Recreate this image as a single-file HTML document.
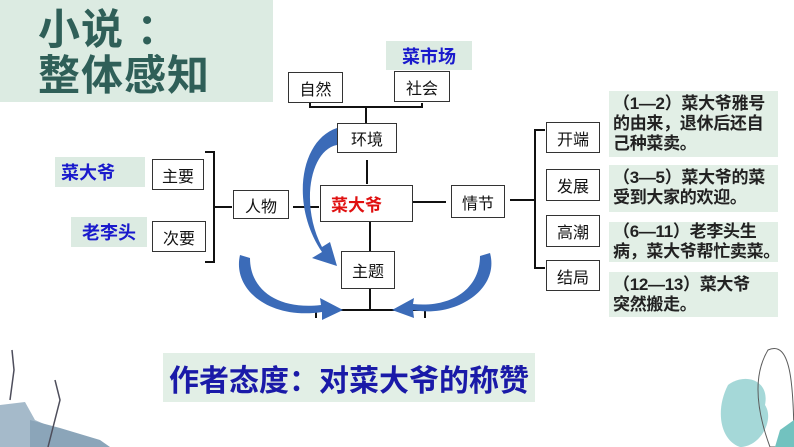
<!DOCTYPE html>
<html><head><meta charset="utf-8"><style>
body{margin:0;width:794px;height:447px;background:#fff;position:relative;overflow:hidden;font-family:"Liberation Sans","Noto Sans CJK SC",sans-serif}
.a{position:absolute}
.box{position:absolute;border:1.5px solid #333;background:#fff;box-sizing:border-box;font-size:16px;color:#111;display:flex;align-items:center;justify-content:center}
.lab{position:absolute;background:#dcebe2;color:#1a1acc;font-weight:bold;font-size:18px;display:flex;align-items:center;justify-content:center}
.g{position:absolute;background:#e2efe6;color:#222;font-weight:bold;font-size:17px;line-height:20px;padding:3px 4px;box-sizing:border-box;white-space:nowrap;letter-spacing:-0.3px}
</style></head><body>
<div class="a" style="left:0;top:0;width:273px;height:102px;background:#dcebe2"></div>
<div class="a" style="left:38px;top:7px;font-size:42px;font-weight:bold;color:#2f5f58;line-height:46px;letter-spacing:1px">小说 ：<br>整体感知</div>

<svg class="a" style="left:0;top:0" width="794" height="447">
<g stroke="#111" stroke-width="2" fill="none">
<path d="M310 103V107H422V103M366 107V123"/>
<path d="M367 160V184M370 222V251M370 289V310M316 318V310H425V318"/>
<path d="M412 202H446M293 207H319"/>
<path d="M205 152H214V262H205M214 207H232"/>
<path d="M545 130H535V268H545M535 200H510"/>
</g>
<g fill="#3b6bb8">
<path d="M337 128C300 140 290 205 322 252L312 258L337 266L330 242L322 247C300 205 310 150 337 145Z"/>
<path d="M240 255C232 290 270 320 322 312L322 320L343 310L320 298L321 305C278 310 250 290 250 258Z"/>
<path d="M490 253C500 290 455 318 413 310L414 318L392 310L414 298L413 304C450 308 480 290 480 256Z"/>
</g>
<g opacity="0.8">
<path d="M0 405L25 402L35 420L58 430L55 447H0Z" fill="#8fa9bd"/>
<path d="M30 420L60 428L100 440L110 447H30Z" fill="#6f8fa8"/>
<path d="M48 447L60 400L55 380M10 400L14 370L12 350" stroke="#223" stroke-width="1.5" fill="none"/>
<path d="M728 385C745 372 770 380 765 405C775 420 760 447 740 447C720 440 715 410 728 385Z" fill="#8fcfcf"/>
<path d="M768 350C790 340 794 380 794 447H770C760 420 750 380 768 350Z" fill="none" stroke="#333"/>
<path d="M780 430L794 420V447H775Z" fill="#4fb3b0"/>
</g>
</svg>

<div class="lab" style="left:386px;top:41px;width:86px;height:29px">菜市场</div>
<div class="box" style="left:288px;top:72px;width:55px;height:31px">自然</div>
<div class="box" style="left:394px;top:71px;width:56px;height:31px">社会</div>
<div class="box" style="left:337px;top:123px;width:60px;height:30px">环境</div>
<div class="box" style="left:320px;top:185px;width:93px;height:37px;color:#e01010;font-weight:bold;font-size:17px;justify-content:flex-start;padding-left:10px">菜大爷</div>
<div class="box" style="left:451px;top:185px;width:54px;height:33px">情节</div>
<div class="box" style="left:233px;top:190px;width:56px;height:29px">人物</div>
<div class="box" style="left:341px;top:251px;width:54px;height:38px">主题</div>
<div class="box" style="left:152px;top:159px;width:52px;height:31px">主要</div>
<div class="box" style="left:152px;top:221px;width:54px;height:31px">次要</div>
<div class="lab" style="left:55px;top:157px;width:84px;height:30px;justify-content:flex-start;padding-left:6px">菜大爷</div>
<div class="lab" style="left:71px;top:217px;width:76px;height:30px">老李头</div>

<div class="box" style="left:546px;top:122px;width:54px;height:31px">开端</div>
<div class="box" style="left:546px;top:169px;width:54px;height:32px">发展</div>
<div class="box" style="left:546px;top:215px;width:54px;height:32px">高潮</div>
<div class="box" style="left:546px;top:260px;width:54px;height:31px">结局</div>
<div class="g" style="left:609px;top:91px;width:169px;height:66px">（1—2）菜大爷雅号<br>的由来，退休后还自<br>己种菜卖。</div>
<div class="g" style="left:609px;top:165px;width:169px;height:47px">（3—5）菜大爷的菜<br>受到大家的欢迎。</div>
<div class="g" style="left:609px;top:222px;width:169px;height:40px;padding-top:0">（6—11）老李头生<br>病，菜大爷帮忙卖菜。</div>
<div class="g" style="left:609px;top:272px;width:169px;height:45px">（12—13）菜大爷<br>突然搬走。</div>

<div class="a" style="left:163px;top:353px;width:372px;height:49px;background:#e2efe6;color:#1a1aa8;font-weight:bold;font-size:30px;display:flex;align-items:center;justify-content:center">作者态度：对菜大爷的称赞</div>
</body></html>
